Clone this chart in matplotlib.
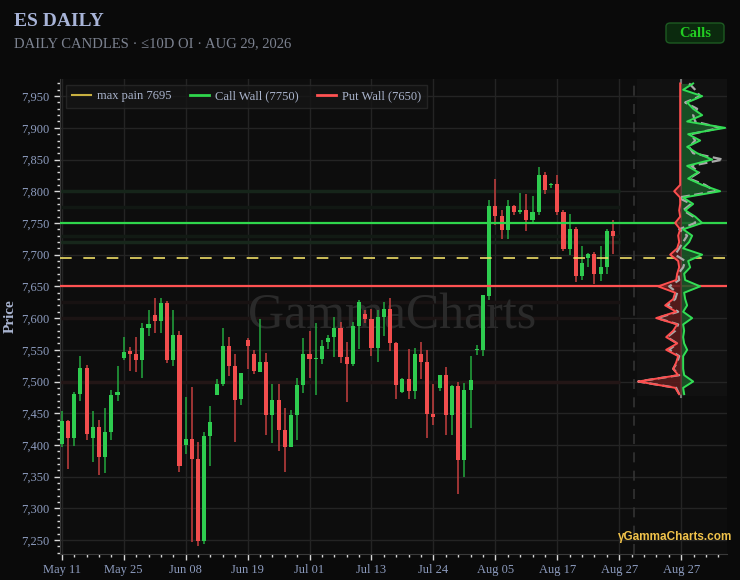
import matplotlib
matplotlib.use('Agg')
import matplotlib.pyplot as plt
import numpy as np
from matplotlib.lines import Line2D
from matplotlib.patches import FancyBboxPatch, Rectangle
from matplotlib.ticker import FuncFormatter, MultipleLocator

plt.rcParams['font.family'] = ['Liberation Serif', 'DejaVu Serif']

# Свечи (90 торговых дней)
opens = [7402, 7438, 7411, 7480, 7521, 7411, 7429, 7381, 7420, 7479,
         7537, 7548, 7543, 7534, 7585, 7605, 7595, 7624, 7534, 7573,
         7400, 7410, 7378, 7248, 7414, 7479, 7496, 7556, 7524, 7472,
         7565, 7543, 7515, 7531, 7447, 7471, 7423, 7397, 7447, 7495,
         7544, 7535, 7536, 7562, 7570, 7585, 7538, 7527, 7588, 7606,
         7599, 7553, 7602, 7615, 7560, 7484, 7504, 7485, 7543, 7530,
         7449, 7489, 7510, 7447, 7493, 7377, 7486, 7549, 7550, 7635,
         7777, 7761, 7739, 7776, 7767, 7771, 7755, 7768, 7826, 7810,
         7811, 7768, 7709, 7740, 7666, 7695, 7701, 7670, 7681, 7738]
highs = [7454, 7440, 7483, 7540, 7526, 7454, 7440, 7458, 7486, 7524,
         7570, 7555, 7570, 7592, 7612, 7632, 7632, 7627, 7612, 7579,
         7476, 7491, 7404, 7420, 7461, 7504, 7584, 7570, 7544, 7513,
         7568, 7550, 7599, 7545, 7496, 7496, 7459, 7455, 7505, 7568,
         7579, 7593, 7565, 7574, 7602, 7594, 7563, 7594, 7628, 7612,
         7615, 7613, 7626, 7631, 7563, 7505, 7551, 7553, 7563, 7550,
         7496, 7511, 7523, 7494, 7499, 7497, 7541, 7558, 7637, 7786,
         7820, 7770, 7786, 7779, 7797, 7796, 7793, 7838, 7831, 7813,
         7825, 7771, 7764, 7744, 7713, 7702, 7704, 7713, 7741, 7755]
lows = [7397, 7362, 7399, 7470, 7408, 7373, 7353, 7356, 7408, 7470,
        7534, 7517, 7515, 7505, 7572, 7576, 7576, 7529, 7524, 7358,
        7385, 7247, 7240, 7244, 7366, 7478, 7493, 7509, 7404, 7463,
        7520, 7512, 7515, 7415, 7403, 7390, 7357, 7397, 7408, 7482,
        7505, 7479, 7527, 7551, 7538, 7529, 7467, 7525, 7552, 7592,
        7541, 7531, 7572, 7548, 7473, 7482, 7473, 7473, 7504, 7411,
        7432, 7485, 7415, 7415, 7323, 7350, 7426, 7542, 7541, 7628,
        7746, 7724, 7725, 7763, 7764, 7738, 7749, 7763, 7796, 7805,
        7762, 7706, 7699, 7657, 7660, 7680, 7654, 7659, 7670, 7701]
closes = [7438, 7411, 7480, 7521, 7418, 7429, 7381, 7420, 7479, 7484,
          7547, 7543, 7534, 7585, 7590, 7595, 7624, 7534, 7573, 7367,
          7410, 7378, 7248, 7414, 7436, 7496, 7556, 7524, 7471, 7513,
          7556, 7516, 7531, 7447, 7471, 7424, 7397, 7447, 7495, 7544,
          7535, 7537, 7556, 7569, 7585, 7538, 7527, 7588, 7626, 7599,
          7553, 7602, 7615, 7560, 7495, 7504, 7485, 7543, 7530, 7449,
          7444, 7510, 7447, 7493, 7377, 7486, 7503, 7551, 7636, 7777,
          7761, 7739, 7777, 7767, 7771, 7755, 7768, 7826, 7802, 7812,
          7768, 7709, 7740, 7666, 7687, 7701, 7670, 7681, 7738, 7729]

tick_pos = [0, 10, 20, 30, 40, 50, 60, 70, 80, 90, 100]
tick_labels = ['May 11', 'May 25', 'Jun 08', 'Jun 19', 'Jul 01', 'Jul 13',
               'Jul 24', 'Aug 05', 'Aug 17', 'Aug 27', 'Aug 27']

max_pain = 7695
call_wall = 7750
put_wall = 7650

# Профиль по страйкам (сверху вниз)
strikes = list(range(7970, 7470, -10))
call_gex = [12, 2, 21, 6, 12, 21, 6, 44, 7, 19,
            6, 16, 31, 6, 17, 7, 21, 39, 2, 12,
            4, 14, 21, 2, 11, 8, 2, 21, 7, 9,
            3, 4, 19, 3, 4, 6, 2, 11, 2, 3,
            2, 3, 6, 2, 2, 2, 3, 12, 2, 3]
put_gex = [1, 1, 1, 1, 1, 1, 1, 1, 1, 1,
           1, 1, 1, 1, 1, 1, 1, 7, 1, 1,
           2, 1, 6, 1, 3, 2, 4, 11, 3, 2,
           4, 5, 23, 6, 8, 16, 5, 25, 4, 8,
           15, 4, 15, 3, 5, 8, 3, 43, 6, 2]
net_gex = [8, 14, 19, 4, 16, 12, 14, 39, 10, 14,
           8, 12, 42, 10, 18, 8, 24, 34, -3, 10,
           2, 12, 14, -2, 6, 2, -2, -6, 4, 2,
           -3, -2, -12, -4, -6, -14, -3, -24, -3, -6,
           -14, -4, -12, -2, -4, -8, -2, -43, -5, -2]

# Слабые уровни OI на фоне свечей
oi_levels = [7800, 7775, 7730, 7720, 7625, 7600, 7500]
oi_colors = ['#16251a', '#111813', '#121a14', '#17271b', '#181212', '#1c1414', '#231616']

bg = '#0a0a0a'
fig = plt.figure(figsize=(7.4, 5.8), dpi=100, facecolor=bg)
ax = fig.add_axes([59.5 / 740, 1 - 554 / 580, 667.5 / 740, 475 / 580])
ax.set_facecolor('#0d0d0d')

x0, x1 = -0.37, 107.4
ax.set_xlim(x0, x1)
ax.set_ylim(7228, 7977)

# сетка
ax.grid(True, which='major', color='#242424', linewidth=1)
ax.set_axisbelow(True)

# фон профиля
ax.add_patch(Rectangle((92.9, 7477), x1 - 92.9, 600, facecolor='#111111',
                       edgecolor='none', zorder=0.5))
ax.axvline(92.45, color='#333333', lw=1.2, ls=(0, (6, 5)), zorder=1)

for lvl, c in zip(oi_levels, oi_colors):
    ax.plot([x0, 90.2], [lvl, lvl], color=c, lw=2.5, zorder=1, solid_capstyle='butt')

# свечи
idx = np.arange(len(opens))
o = np.array(opens); c = np.array(closes)
up = c >= o
body_col = np.where(up, '#2ecc4f', '#f24d4d')
wick_col = np.where(up, '#23a83e', '#c63f3f')
ax.vlines(idx, lows, highs, colors=wick_col, lw=1.1, zorder=3)
bottoms = np.minimum(o, c)
heights = np.maximum(np.abs(c - o), 2)
ax.bar(idx, heights, bottom=bottoms, width=0.66, color=body_col, zorder=4)

# уровни
ax.axhline(call_wall, color='#2fd64c', lw=1.6, zorder=5)
ax.axhline(put_wall, color='#ff5252', lw=1.6, zorder=5)
ax.axhline(max_pain, color='#eedd66', lw=1.2, ls=(0, (7, 7)), zorder=5)

# профиль
base = 100
scale = 7.1 / max(call_gex)
s = np.array(strikes)
cx = base + np.array(call_gex) * scale
px = base - np.array(put_gex) * scale
nx = base + np.array(net_gex) * scale
ax.plot([base, base], [strikes[-1] - 4, strikes[0] + 5], color='#777777', lw=1.5, zorder=5)
ax.fill_betweenx(s, base, cx, color='#1a5a28', alpha=0.85, lw=0, zorder=5.5)
ax.fill_betweenx(s, px, base, color='#5e1c1c', alpha=0.85, lw=0, zorder=5.5)
ax.plot(nx, s, color='#a8a8a8', lw=1.6, ls=(0, (4, 2)), zorder=6)
ax.plot(px, s, color='#ff4f4f', lw=1.4, zorder=7)
ax.plot(cx, s, color='#33dd55', lw=1.4, zorder=7)

# оси
ax.set_xticks(tick_pos)
ax.set_xticklabels(tick_labels)
ax.xaxis.set_minor_locator(MultipleLocator(2))
ax.yaxis.set_major_locator(MultipleLocator(50))
ax.yaxis.set_minor_locator(MultipleLocator(10))
ax.yaxis.set_major_formatter(FuncFormatter(lambda v, p: f'{v:,.0f}'))
ax.tick_params(which='major', length=4, width=1, color='#d8d8d8',
               labelcolor='#8d9cbf', labelsize=9)
ax.tick_params(which='minor', length=2, width=1, color='#d8d8d8')
for sp in ['top', 'right']:
    ax.spines[sp].set_visible(False)
for sp in ['left', 'bottom']:
    ax.spines[sp].set_color('#3a3a3a')
ax.set_ylabel('Price', color='#a9b4d0', fontsize=11, fontweight='bold', labelpad=3)

# легенда
handles = [Line2D([], [], color='#c8b040', lw=1.5),
           Line2D([], [], color='#2fd64c', lw=2),
           Line2D([], [], color='#ff5252', lw=2)]
labels = [f'max pain {max_pain}', f'Call Wall ({call_wall})', f'Put Wall ({put_wall})']
leg = ax.legend(handles, labels, loc='upper left', bbox_to_anchor=(0.01, 0.988),
                ncol=3, fontsize=9, frameon=True, fancybox=False, handlelength=1.5,
                handletextpad=0.5, columnspacing=1.5, borderaxespad=0, borderpad=0.45)
leg.get_frame().set_facecolor('#151515')
leg.get_frame().set_edgecolor('#2a2a2a')
for t in leg.get_texts():
    t.set_color('#aab4cc')
leg.set_zorder(10)

# водяные знаки
ax.text(0.498, 0.5, 'GammaCharts', transform=ax.transAxes, fontsize=36,
        color='#2a2a2a', ha='center', va='center', zorder=2)
fig.text(732 / 740, 1 - 537 / 580, '\u03b3GammaCharts.com', fontsize=8.5,
         color='#f0c24a', ha='right', va='center', fontweight='bold',
         family=['Liberation Sans', 'DejaVu Sans'], zorder=10)

# заголовки
fig.text(14 / 740, 1 - 22 / 580, 'ES DAILY', fontsize=14, fontweight='bold',
         color='#a8b4d8', va='center')
fig.text(14 / 740, 1 - 43.5 / 580, 'DAILY CANDLES \u00b7 \u226410D OI \u00b7 AUG 29, 2026',
         fontsize=10.5, color='#7c8290', va='center')

badge = FancyBboxPatch((666 / 740, 1 - 43 / 580), 58 / 740, 20 / 580,
                       boxstyle='round,pad=0,rounding_size=0.006',
                       transform=fig.transFigure, facecolor='#0b2a0e',
                       edgecolor='#1d5a22', lw=1)
fig.patches.append(badge)
fig.text(695 / 740, 1 - 33.5 / 580, 'Calls', fontsize=10.5, fontweight='bold',
         color='#22cc22', ha='center', va='center')

plt.savefig('out.png', dpi=100, facecolor=bg)
